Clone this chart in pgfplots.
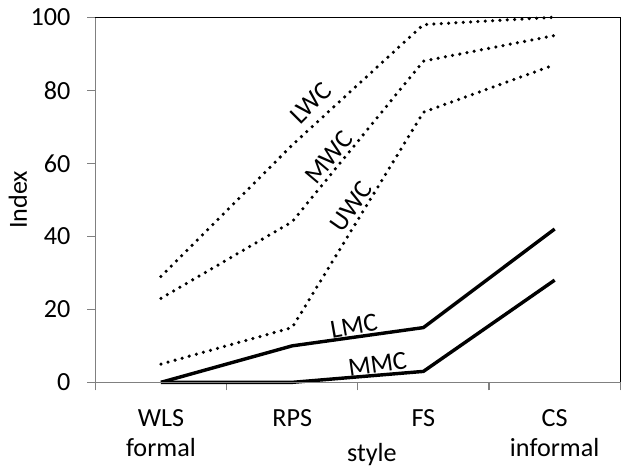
\documentclass[border=0pt]{standalone}
\usepackage{fontspec}
\setmainfont{Carlito}
\usepackage{pgfplots}
\pgfplotsset{compat=1.18}
\pgfplotstableread{
x LWC MWC UWC LMC MMC
0 29 23 5 0 0
1 65 44 15 10 0
2 98 88 74 15 3
3 100 95 87 42 28
}\datatable
\begin{document}
\fontsize{26}{30}\selectfont
\begin{tikzpicture}
\begin{axis}[
  scale only axis,
  width=522pt, height=363pt,
  xmin=-0.5, xmax=3.5, ymin=0, ymax=100,
  ytick={0,20,...,100},
  xtick={-0.5,0.5,1.5,2.5,3.5},
  xticklabels={},
  extra x ticks={0,1,2,3},
  extra x tick labels={WLS\\formal, RPS, FS, CS\\informal},
  extra x tick style={major tick length=0pt, tick label style={align=center, yshift=-18pt}},
  tick pos=left, tick align=outside,
  major tick length=8pt,
  tick style={draw=gray, line width=1.2pt},
  axis line style={draw=none},
  /pgf/number format/assume math mode=true,
  yticklabel style={xshift=-8pt},
  clip=false,
]
\addplot[black, line width=3.5pt, dash pattern=on 0pt off 7.3pt, line cap=round] table[x=x,y=LWC] {\datatable};
\addplot[black, line width=3.5pt, dash pattern=on 0pt off 7.3pt, line cap=round] table[x=x,y=MWC] {\datatable};
\addplot[black, line width=3.5pt, dash pattern=on 0pt off 7.3pt, line cap=round] table[x=x,y=UWC] {\datatable};
\addplot[black, line width=3.4pt, line join=round] table[x=x,y=LMC] {\datatable};
\addplot[black, line width=3.4pt, line join=round] table[x=x,y=MMC] {\datatable};
\node[rotate=45, inner sep=0pt] at (axis cs:1.14,76.5) {LWC};
\node[rotate=50, inner sep=0pt] at (axis cs:1.28,61.7) {MWC};
\node[rotate=55, inner sep=0pt] at (axis cs:1.45,48.2) {UWC};
\node[rotate=10, inner sep=0pt] at (axis cs:1.47,15.4) {LMC};
\node[rotate=8, inner sep=0pt] at (axis cs:1.65,5) {MMC};
\node[anchor=base] at ([yshift=-79pt]rel axis cs:0.527,0) {style};
\node[rotate=90] at ([xshift=-77pt]rel axis cs:0,0.5) {Index};
\draw[gray, line width=1.2pt] (rel axis cs:0,1) -- (rel axis cs:0,0) -- (rel axis cs:1,0);
\draw[black, line width=1.5pt] (rel axis cs:0,1) -- (rel axis cs:1,1) -- (rel axis cs:1,0);
\end{axis}
\end{tikzpicture}
\end{document}
